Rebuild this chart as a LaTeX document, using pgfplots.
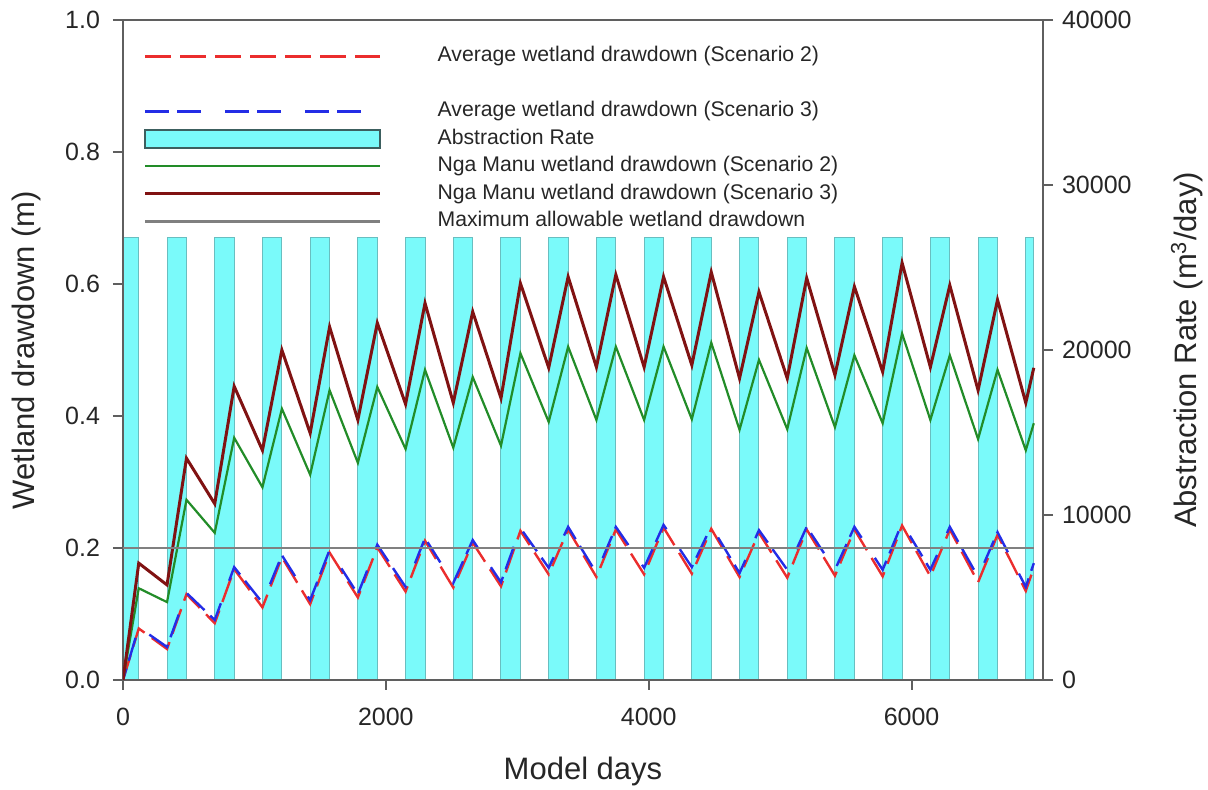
\documentclass[border=0pt]{standalone}
\usepackage{fontspec}
\setmainfont{Liberation Sans}
\usepackage{pgfplots}
\pgfplotsset{compat=1.18}
\usepackage{pgfplotstable}

\definecolor{barcyan}{RGB}{122,250,250}
\definecolor{baredge}{RGB}{105,190,192}
\definecolor{boxedge}{RGB}{60,95,95}
\definecolor{darkred}{RGB}{128,18,18}
\definecolor{mgreen}{RGB}{34,140,40}
\definecolor{dred}{RGB}{235,45,45}
\definecolor{dblue}{RGB}{35,45,230}
\definecolor{maxgray}{RGB}{128,128,128}
\definecolor{axgray}{RGB}{95,95,95}

\pgfplotsset{
  longline legend/.style={legend image code/.code={\draw[##1] (0pt,0pt) -- (117.5pt,0pt); \path (145pt,0pt);}},
  longbox legend/.style={legend image code/.code={\draw[##1] (0pt,-4.5pt) rectangle (117.5pt,4.5pt); \path (145pt,0pt);}},
}

% Abstraction rate (m3/day): pumping periods as rectangles
\pgfplotstableread{
day rate
0 0
0 26800
120 26800
120 0
335 0
335 26800
483 26800
483 0
698 0
698 26800
846 26800
846 0
1061 0
1061 26800
1209 26800
1209 0
1424 0
1424 26800
1572 26800
1572 0
1787 0
1787 26800
1935 26800
1935 0
2150 0
2150 26800
2298 26800
2298 0
2513 0
2513 26800
2661 26800
2661 0
2876 0
2876 26800
3024 26800
3024 0
3239 0
3239 26800
3387 26800
3387 0
3602 0
3602 26800
3750 26800
3750 0
3965 0
3965 26800
4113 26800
4113 0
4328 0
4328 26800
4476 26800
4476 0
4691 0
4691 26800
4839 26800
4839 0
5054 0
5054 26800
5202 26800
5202 0
5417 0
5417 26800
5565 26800
5565 0
5780 0
5780 26800
5928 26800
5928 0
6143 0
6143 26800
6291 26800
6291 0
6506 0
6506 26800
6654 26800
6654 0
6869 0
6869 26800
6930 26800
6930 0
}\abstr

\pgfplotstableread{
day dd
0 0
120 0.177
335 0.144
483 0.336
698 0.267
846 0.445
1061 0.348
1209 0.500
1424 0.374
1572 0.535
1787 0.394
1935 0.541
2150 0.418
2298 0.571
2513 0.420
2661 0.558
2876 0.427
3024 0.601
3239 0.473
3387 0.611
3602 0.474
3750 0.614
3965 0.474
4113 0.611
4328 0.477
4476 0.618
4691 0.457
4839 0.588
5054 0.457
5202 0.609
5417 0.462
5565 0.596
5780 0.467
5928 0.632
6143 0.474
6291 0.598
6506 0.439
6654 0.576
6869 0.420
6930 0.473
}\ngaS

\pgfplotstableread{
day dd
0 0
120 0.139
335 0.118
483 0.273
698 0.223
846 0.367
1061 0.292
1209 0.411
1424 0.311
1572 0.439
1787 0.329
1935 0.444
2150 0.350
2298 0.470
2513 0.352
2661 0.459
2876 0.355
3024 0.495
3239 0.391
3387 0.505
3602 0.394
3750 0.505
3965 0.394
4113 0.505
4328 0.395
4476 0.511
4691 0.379
4839 0.485
5054 0.380
5202 0.503
5417 0.383
5565 0.492
5780 0.389
5928 0.525
6143 0.394
6291 0.492
6506 0.365
6654 0.470
6869 0.348
6930 0.389
}\ngaT

\pgfplotstableread{
day dd
0 0
120 0.080
335 0.050
483 0.132
698 0.091
846 0.171
1061 0.117
1209 0.189
1424 0.121
1572 0.197
1787 0.130
1935 0.205
2150 0.141
2298 0.215
2513 0.147
2661 0.212
2876 0.148
3024 0.230
3239 0.170
3387 0.232
3602 0.162
3750 0.232
3965 0.170
4113 0.235
4328 0.171
4476 0.233
4691 0.162
4839 0.227
5054 0.167
5202 0.232
5417 0.167
5565 0.232
5780 0.167
5928 0.238
6143 0.167
6291 0.232
6506 0.156
6654 0.224
6869 0.141
6930 0.177
}\avgT

\pgfplotstableread{
day dd
0 0
120 0.078
335 0.047
483 0.130
698 0.086
846 0.168
1061 0.110
1209 0.186
1424 0.115
1572 0.193
1787 0.125
1935 0.201
2150 0.134
2298 0.211
2513 0.140
2661 0.208
2876 0.142
3024 0.226
3239 0.160
3387 0.228
3602 0.156
3750 0.228
3965 0.160
4113 0.231
4328 0.161
4476 0.229
4691 0.156
4839 0.223
5054 0.155
5202 0.228
5417 0.158
5565 0.228
5780 0.157
5928 0.234
6143 0.157
6291 0.228
6506 0.148
6654 0.220
6869 0.135
6930 0.170
}\avgS

\pgfplotstableread{
day dd
0 0.2
6930 0.2
}\maxdd

\begin{document}
\begin{tikzpicture}
\path[use as bounding box] (-61.5pt,-55pt) rectangle (542.5pt,340pt);
% right axis: abstraction rate (bars, drawn first so they sit underneath)
\begin{axis}[
  scale only axis, width=460pt, height=330pt,
  clip mode=individual,
  xmin=0, xmax=7000, ymin=0, ymax=40000,
  axis x line=none, axis y line*=right,
  axis line style={axgray, line width=1pt},
  ytick={0,10000,20000,30000,40000},
  scaled y ticks=false,
  /pgf/number format/1000 sep={},
  /pgf/number format/assume math mode=true,
  tick align=outside, major tick length=5pt,
  tick style={axgray, line width=1pt},
  tick label style={font=\fontsize{12.5}{14}\selectfont, text=black!85},
  yticklabel style={xshift=1pt},
]
\addplot[fill=barcyan, draw=baredge, line width=0.5pt] table[x=day, y=rate] {\abstr} \closedcycle;
\node[rotate=90, anchor=center, font=\fontsize{15.5}{18}\selectfont, text=black!85]
  at (axis description cs:1.1565,0.5) {Abstraction Rate (m\textsuperscript{3}/day)};
\end{axis}
% left axis: drawdown
\begin{axis}[
  scale only axis, width=460pt, height=330pt,
  clip mode=individual,
  xmin=0, xmax=7000, ymin=0, ymax=1,
  axis line style={axgray, line width=1pt},
  xtick={0,2000,4000,6000},
  ytick={0,0.2,0.4,0.6,0.8,1},
  xtick pos=bottom, ytick pos=left,
  scaled x ticks=false,
  /pgf/number format/1000 sep={},
  /pgf/number format/assume math mode=true,
  yticklabel style={xshift=-3pt, /pgf/number format/.cd, fixed, fixed zerofill, precision=1},
  xticklabel style={yshift=-5.5pt},
  tick align=outside, major tick length=5pt,
  tick style={axgray, line width=1pt},
  tick label style={font=\fontsize{12.5}{14}\selectfont, text=black!85},
  longline legend,
  legend cell align=left,
  legend style={draw=none, fill=none,
    at={(axis description cs:0.022,0.963)}, anchor=north west,
    font=\fontsize{10.6}{13}\selectfont, text=black!85,
    row sep=2.25pt, inner sep=0pt,
    nodes={inner sep=0.5pt, text height=8pt, text depth=2.5pt}},
]
\addplot[forget plot, dred, line width=1.2pt, dash pattern=on 13pt off 4.5pt] table[x=day, y=dd] {\avgS};
\addplot[forget plot, dblue, line width=1.2pt, dash pattern=on 12pt off 4pt on 12pt off 12pt, dash phase=6pt] table[x=day, y=dd] {\avgT};
\addplot[forget plot, mgreen, line width=1.1pt] table[x=day, y=dd] {\ngaT};
\addplot[forget plot, darkred, line width=1.5pt] table[x=day, y=dd] {\ngaS};
\addplot[forget plot, maxgray, line width=1.2pt] table[x=day, y=dd] {\maxdd};

\addlegendimage{dred, line width=1.2pt, dash pattern=on 13pt off 4.5pt}
\addlegendentry{Average wetland drawdown (Scenario 2)}
\addlegendimage{empty legend}
\addlegendentry{}
\addlegendimage{dblue, line width=1.2pt, dash pattern=on 12pt off 4pt on 12pt off 12pt}
\addlegendentry{Average wetland drawdown (Scenario 3)}
\addlegendimage{longbox legend, fill=barcyan, draw=boxedge, line width=1pt}
\addlegendentry{Abstraction Rate}
\addlegendimage{mgreen, line width=1.1pt}
\addlegendentry{Nga Manu wetland drawdown (Scenario 2)}
\addlegendimage{darkred, line width=1.5pt}
\addlegendentry{Nga Manu wetland drawdown (Scenario 3)}
\addlegendimage{maxgray, line width=1.2pt}
\addlegendentry{Maximum allowable wetland drawdown}

\node[rotate=90, anchor=center, font=\fontsize{15.5}{18}\selectfont, text=black!85]
  at (axis description cs:-0.105,0.5) {Wetland drawdown (m)};
\node[anchor=center, font=\fontsize{15.5}{18}\selectfont, text=black!85]
  at (axis description cs:0.5,-0.139) {Model days};
\end{axis}
\end{tikzpicture}
\end{document}
